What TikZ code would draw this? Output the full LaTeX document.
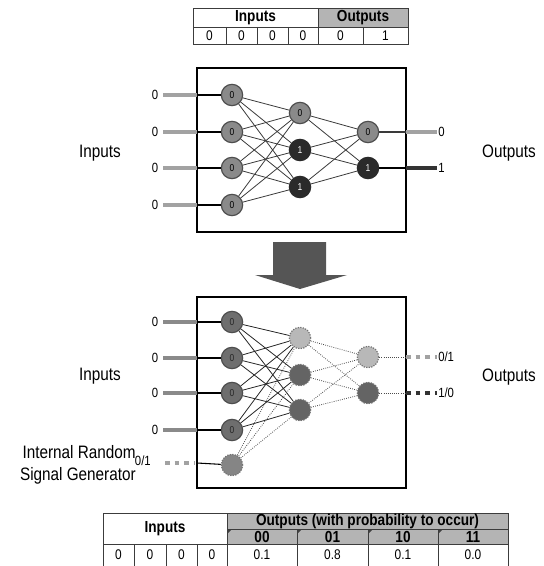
\documentclass[tikz,border=0pt]{standalone}
\usepackage{fontspec}
\setmainfont[FakeStretch=0.85]{Liberation Sans}
\definecolor{nodegray}{HTML}{8A8A8A}
\definecolor{nodeedge}{HTML}{4E4E4E}
\definecolor{nodedark}{HTML}{2A2A2A}
\definecolor{bin}{HTML}{6E6E6E}
\definecolor{blight}{HTML}{B8B8B8}
\definecolor{bdark}{HTML}{646464}
\definecolor{stubgray}{HTML}{A2A2A2}
\definecolor{stubdark}{HTML}{333333}
\definecolor{hdrgray}{HTML}{B4B4B4}
\definecolor{linec}{HTML}{3A3A3A}
\definecolor{arrowc}{HTML}{555555}
\definecolor{tblc}{HTML}{3C3C3C}
\tikzset{
  neu/.style={circle, minimum size=16pt, inner sep=0pt, line width=0.9pt, font=\fontsize{7.5}{8}\selectfont},
  ng/.style={neu, fill=nodegray, draw=nodeedge},
  nk/.style={neu, fill=nodedark, draw=nodedark, text=white},
  nb/.style={neu, fill=bin, draw=nodeedge, text=black!85},
  nbl/.style={neu, fill=blight, draw=black!55, densely dotted},
  nbd/.style={neu, fill=bdark, draw=black!55, densely dotted},
  conn/.style={draw=linec, line width=0.6pt},
  dconn/.style={draw=black!70, line width=0.6pt, densely dotted},
  stub/.style={line width=3.2pt},
  dstub/.style={line width=3.2pt, dash pattern=on 3.6pt off 3.6pt},
  netbox/.style={draw=black, line width=1.5pt},
  lbl/.style={inner sep=0pt, font=\fontsize{10}{11}\selectfont},
  biglbl/.style={inner sep=0pt, font=\fontsize{13.5}{17}\selectfont},
  hdr/.style={inner sep=0pt, font=\bfseries\fontsize{12}{13}\selectfont},
  val/.style={inner sep=0pt, font=\fontsize{10.5}{12}\selectfont},
  tbl/.style={draw=tblc, line width=0.6pt},
}
\begin{document}
\begin{tikzpicture}[x=0.75pt,y=-0.75pt]
\useasboundingbox (0,0) rectangle (543,566);
% ---------- top table ----------
\fill[hdrgray] (318,8) rectangle (408,27);
\draw[tbl] (193,8) rectangle (408,44);
\draw[tbl] (193,27) -- (408,27);
\draw[tbl] (318,8) -- (318,44);
\foreach \x in {226,257,288,363} \draw[tbl] (\x,27) -- (\x,44);
\node[hdr] (tin) at (255.5,17.5) {Inputs};
\node[hdr] (tout) at (363,17.5) {Outputs};
\node[val] (tv1) at (209.5,35.5) {0};
\node[val] (tv2) at (241.5,35.5) {0};
\node[val] (tv3) at (272.5,35.5) {0};
\node[val] (tv4) at (303,35.5) {0};
\node[val] (tv5) at (340.5,35.5) {0};
\node[val] (tv6) at (385.5,35.5) {1};
% ---------- top network ----------
\draw[netbox] (197,68) rectangle (406,232);
\node[ng] (a1) at (232,95) {0};
\node[ng] (a2) at (232,132) {0};
\node[ng] (a3) at (232,168) {0};
\node[ng] (a4) at (232,205) {0};
\node[ng] (h1) at (300,113) {0};
\node[nk] (h2) at (300,150) {1};
\node[nk] (h3) at (300,187) {1};
\node[ng] (o1) at (368,132) {0};
\node[nk] (o2) at (368,168) {1};
\foreach \i in {1,...,4}{\foreach \j in {1,2,3}{\draw[conn] (a\i) -- (h\j);}}
\foreach \j in {1,2,3}{\foreach \k in {1,2}{\draw[conn] (h\j) -- (o\k);}}
\foreach \i/\y in {1/95,2/132,3/168,4/205}{
  \coordinate (la\i) at (163,\y);
  \coordinate (ea\i) at (197,\y);
  \draw[stub, stubgray] (la\i) -- (ea\i);
  \draw[black, line width=0.8pt] (ea\i) -- (a\i);
  \node[lbl, anchor=east] (ta\i) at (158.5,\y) {0};
}
\coordinate (eo1) at (406,132); \coordinate (ro1) at (437,132);
\coordinate (eo2) at (406,168); \coordinate (ro2) at (437,168);
\draw[linec, line width=0.8pt] (o1) -- (eo1);
\draw[black, line width=0.8pt] (o2) -- (eo2);
\draw[stub, stubgray] (eo1) -- (ro1);
\draw[stub, stubdark] (eo2) -- (ro2);
\node[lbl, anchor=west] (to1) at (438,132) {0};
\node[lbl, anchor=west] (to2) at (438,168) {1};
\node[biglbl] (inlab1) at (100,153) {Inputs};
\node[biglbl] (outlab1) at (509,153) {Outputs};
% ---------- arrow ----------
\fill[arrowc] (273,242) -- (326,242) -- (326,275) -- (347,275) -- (300,289) -- (255,275) -- (273,275) -- cycle;
% ---------- bottom network ----------
\draw[netbox] (197,297) rectangle (406,488);
\node[nb] (b1) at (232,322) {0};
\node[nb] (b2) at (232,358) {0};
\node[nb] (b3) at (232,393) {0};
\node[nb] (b4) at (232,430) {0};
\node[neu, fill=black!48, draw=black!55, densely dotted] (r) at (232,465) {};
\node[nbl] (g1) at (300,338) {};
\node[nbd] (g2) at (300,375) {};
\node[nbd] (g3) at (300,410) {};
\node[nbl] (p1) at (368,357) {};
\node[nbd] (p2) at (368,393) {};
\foreach \i in {1,...,4}{\foreach \j in {1,2,3}{\draw[conn, draw=black!85] (b\i) -- (g\j);}}
\foreach \j in {1,2,3}{\draw[dconn] (r) -- (g\j);}
\foreach \j in {1,2,3}{\foreach \k in {1,2}{\draw[dconn] (g\j) -- (p\k);}}
\foreach \i/\y in {1/322,2/358,3/393,4/430}{
  \coordinate (lb\i) at (163,\y);
  \coordinate (eb\i) at (197,\y);
  \draw[stub, stubgray!85!black] (lb\i) -- (eb\i);
  \draw[black, line width=0.8pt] (eb\i) -- (b\i);
  \node[lbl, anchor=east] (tb\i) at (158.5,\y) {0};
}
\coordinate (lr) at (165,463); \coordinate (er) at (197,463);
\draw[dstub, stubgray] (lr) -- (194,463);
\draw[black, line width=0.8pt] (er) -- (r);
\node[lbl, anchor=east] (tr) at (151,461) {0/1};
\node[biglbl, anchor=east, align=right] (gen) at (136,465) {Internal Random\\Signal Generator};
\coordinate (ep1) at (406,357); \coordinate (rp1) at (437,357);
\coordinate (ep2) at (406,393); \coordinate (rp2) at (437,393);
\draw[dconn] (p1) -- (ep1);
\draw[dconn] (p2) -- (ep2);
\draw[dstub, stubgray] (ep1) -- (rp1);
\draw[dstub, stubdark] (ep2) -- (rp2);
\node[lbl, anchor=west] (tp1) at (438,357) {0/1};
\node[lbl, anchor=west] (tp2) at (438,393) {1/0};
\node[biglbl] (inlab2) at (100,376) {Inputs};
\node[biglbl] (outlab2) at (509,377) {Outputs};
% ---------- bottom table ----------
\fill[hdrgray] (227,513) rectangle (508,544);
\draw[tbl] (103,513) -- (508,513);
\draw[tbl] (227,529) -- (508,529);
\draw[tbl] (103,544) -- (508,544);
\draw[tbl] (103,513) -- (103,566);
\draw[tbl] (227,513) -- (227,566);
\draw[tbl] (508,513) -- (508,566);
\foreach \x in {297,368,438} \draw[tbl] (\x,529) -- (\x,566);
\foreach \x in {134,166,197} \draw[tbl] (\x,544) -- (\x,566);
\foreach \x in {227,297,368,438} \fill[black!75] (\x+0.5,529.5) -- (\x+4.5,529.5) -- (\x+0.5,533.5) -- cycle;
\node[hdr] (bin) at (165,528.5) {Inputs};
\node[hdr] (bout) at (367.5,521) {Outputs (with probability to occur)};
\node[hdr] (c00) at (262,536.5) {00};
\node[hdr] (c01) at (332.5,536.5) {01};
\node[hdr] (c10) at (403,536.5) {10};
\node[hdr] (c11) at (473,536.5) {11};
\node[val] (v1) at (118.5,555) {0};
\node[val] (v2) at (150,555) {0};
\node[val] (v3) at (181.5,555) {0};
\node[val] (v4) at (212,555) {0};
\node[val] (v5) at (262,555) {0.1};
\node[val] (v6) at (332.5,555) {0.8};
\node[val] (v7) at (403,555) {0.1};
\node[val] (v8) at (473,555) {0.0};
\end{tikzpicture}
\end{document}
